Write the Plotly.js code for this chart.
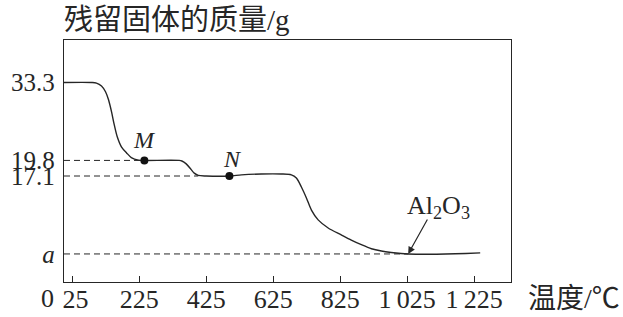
<!DOCTYPE html>
<html><head><meta charset="utf-8">
<script src="https://cdn.plot.ly/plotly-3.0.1.min.js"></script>
<style>html,body{margin:0;padding:0;background:#fff}#chart{width:623px;height:317px}</style>
</head><body><div id="chart"></div><script>
// Curve: temperature (°C) vs residual solid mass (g)
const temperature = [0, 82, 97, 112, 124, 133, 142, 150, 159, 172, 187, 201, 222, 240, 344, 352, 365, 380, 389, 401, 425, 494, 530, 589, 649, 679, 694, 709, 724, 739, 759, 789, 828, 858, 888, 918, 948, 977, 1007, 1028, 1080, 1140, 1200, 1243];
const residualMass = [33.3, 33.3, 33.2, 32.7, 31.7, 30.3, 28.2, 26.0, 23.9, 22.1, 21.1, 20.3, 19.85, 19.8, 19.8, 19.7, 19.2, 18.2, 17.6, 17.2, 17.1, 17.1, 17.3, 17.45, 17.45, 17.3, 16.75, 15.2, 13.3, 11.2, 9.5, 8.1, 6.9, 6.0, 5.2, 4.5, 4.1, 3.85, 3.67, 3.6, 3.55, 3.58, 3.68, 3.78];

// Marked points
const pointNames = ['M', 'N'];
const pointTemp = [240, 494];
const pointMass = [19.8, 17.1];

// Final Al2O3 mass "a" (position)
const aMass = 3.6;
const aTemp = 1028;

// Dashed guide lines: end temperatures and levels
const guideEndTemp = [240, 401, 1028];
const guideMass = [19.8, 17.1, 3.6];

// Ticks
const xTickVals = [25, 225, 425, 625, 825, 1025, 1225];
const xTickText = ['\u00a025', '225', '425', '625', '825', '1\u2009025', '1\u2009225'];
const yTickVals = [3.6, 17.1, 19.8, 33.3];
const yTickText = ['<i>a</i>', '17.1', '19.8', '33.3'];

const ink = '#262626';
const serif = '"Liberation Serif", "Noto Sans CJK SC", serif';

const traces = [];
guideMass.forEach((m, i) => {
  traces.push({x: [0, guideEndTemp[i]], y: [m, m], mode: 'lines', type: 'scatter',
    line: {color: ink, width: 1, dash: '6px,4px'}, hoverinfo: 'skip', showlegend: false});
});
traces.push({x: temperature, y: residualMass, mode: 'lines', type: 'scatter',
  line: {color: ink, width: 1.4, shape: 'spline', smoothing: 0.8}, showlegend: false});
traces.push({x: pointTemp, y: pointMass, mode: 'markers', type: 'scatter',
  marker: {color: '#111', size: 8}, showlegend: false});

const annotations = [
  {xref: 'paper', yref: 'paper', x: -0.004, y: 1.083, xanchor: 'left', yanchor: 'middle',
   text: '残留固体的质量/g', showarrow: false, font: {family: serif, size: 29, color: ink}},
  {xref: 'paper', yref: 'paper', x: 1.034, y: -0.07, xanchor: 'left', yanchor: 'middle',
   text: '温度/℃', showarrow: false, font: {family: serif, size: 28, color: ink}},
  {xref: 'paper', yref: 'paper', x: -0.036, y: -0.07, xanchor: 'center', yanchor: 'middle',
   text: '0', showarrow: false, font: {family: serif, size: 26, color: ink}},
  {x: aTemp, y: aMass, ax: 20, ay: -36, text: '', showarrow: true, arrowhead: 2,
   arrowsize: 1.2, arrowwidth: 1.2, arrowcolor: ink, standoff: 0},
  {x: 1118, y: 11.7, text: 'Al<sub>2</sub>O<sub>3</sub>', showarrow: false,
   font: {family: serif, size: 26, color: ink}}
];
pointNames.forEach((n, i) => {
  annotations.push({x: pointTemp[i], y: pointMass[i], text: '<i>' + n + '</i>', showarrow: false,
    yshift: i === 0 ? 20 : 17, xshift: i === 0 ? 0 : 3, font: {family: serif, size: 24, color: ink}});
});

const layout = {
  width: 623, height: 317,
  margin: {l: 64, r: 112, t: 40, b: 35, pad: 0},
  paper_bgcolor: '#fff', plot_bgcolor: '#fff',
  showlegend: false,
  xaxis: {range: [0, 1335], showgrid: false, zeroline: false, showline: true, mirror: true,
    linecolor: ink, linewidth: 1.3, ticks: 'inside', ticklen: 6, tickwidth: 1, tickcolor: ink,
    tickvals: xTickVals, ticktext: xTickText, tickfont: {family: serif, size: 26, color: ink},
    ticklabelstandoff: -7},
  yaxis: {range: [-1.26, 40.66], showgrid: false, zeroline: false, showline: true, mirror: true,
    linecolor: ink, linewidth: 1.3, ticks: '', tickvals: yTickVals, ticktext: yTickText,
    tickfont: {family: serif, size: 25, color: ink}, ticklabelstandoff: 3},
  annotations: annotations
};

Plotly.newPlot('chart', traces, layout, {staticPlot: true, displayModeBar: false});
</script></body></html>
